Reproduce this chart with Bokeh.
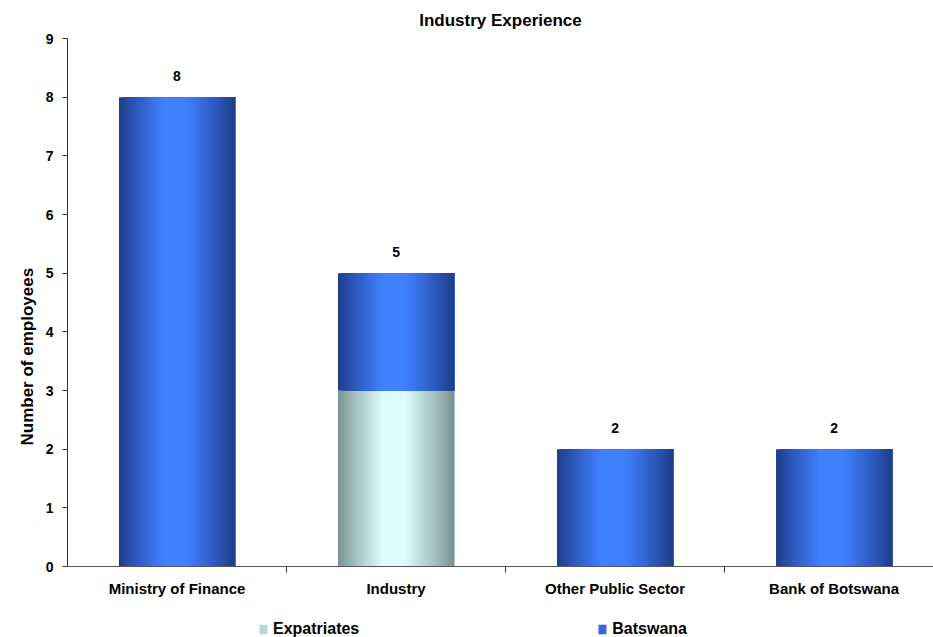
from bokeh.plotting import figure
from bokeh.models import (ColumnDataSource, Range1d, FixedTicker, Legend, LegendItem, Title)
from bokeh.layouts import column
from bokeh.embed import file_html
from bokeh.resources import INLINE

# ---- data ----
categories = ["Ministry of Finance", "Industry", "Other Public Sector", "Bank of Botswana"]
series_names = ["Expatriates", "Batswana"]
expatriates = [0, 3, 0, 0]
batswana = [8, 2, 2, 2]
y_ticks = [0, 1, 2, 3, 4, 5, 6, 7, 8, 9]
title_text = "Industry Experience"
y_label = "Number of employees"

FONT = "Liberation Sans"
BAR_W = 0.53
N_STRIPS = 40

def mix(c1, c2, f):
    return "#%02x%02x%02x" % tuple(int(round(a + (b - a) * f)) for a, b in zip(c1, c2))

def shade(t):
    if t < 0.38:
        return (t / 0.38) ** 0.9
    if t <= 0.58:
        return 1.0
    return ((1 - t) / 0.42) ** 0.9

palettes = {
    "Expatriates": ((120, 145, 142), (218, 252, 252)),
    "Batswana": ((30, 60, 136), (64, 128, 255)),
}

def strips(bottoms, tops, pal):
    d = dict(left=[], right=[], bottom=[], top=[], color=[])
    sw = BAR_W / N_STRIPS
    for i, (b, t) in enumerate(zip(bottoms, tops)):
        if t <= b:
            continue
        for k in range(N_STRIPS):
            tt = (k + 0.5) / N_STRIPS
            d["left"].append(i - BAR_W / 2 + k * sw)
            d["right"].append(i + BAR_W / 2)
            d["bottom"].append(b)
            d["top"].append(t)
            d["color"].append(mix(pal[0], pal[1], shade(tt)))
    return d

exp_bottom = [0] * len(categories)
exp_top = [e for e in expatriates]
bat_bottom = exp_top
bat_top = [e + b for e, b in zip(expatriates, batswana)]

p = figure(frame_width=866, frame_height=528, output_backend="svg", toolbar_location=None,
           x_range=Range1d(-0.5, 3.454), y_range=Range1d(0, 9),
           min_border_left=67, min_border_right=0, min_border_top=37, min_border_bottom=41)
p.outline_line_color = None
p.xgrid.visible = False
p.ygrid.visible = False

sources = {
    "Expatriates": ColumnDataSource(strips(exp_bottom, exp_top, palettes["Expatriates"])),
    "Batswana": ColumnDataSource(strips(bat_bottom, bat_top, palettes["Batswana"])),
}
for name in series_names:
    p.quad(left="left", right="right", bottom="bottom", top="top", source=sources[name],
           fill_color="color", line_color=None)

# value labels
lab = ColumnDataSource(dict(x=list(range(len(categories))), y=bat_top,
                            t=[str(v) for v in bat_top]))
p.text(x="x", y="y", text="t", source=lab, text_align="center", text_baseline="middle",
       y_offset=-21, text_font_size="14px", text_font_style="bold", text_color="black",
       text_font={"value": FONT})

# title
p.title.text = title_text
p.title.align = "center"
p.title.text_font = FONT
p.title.text_font_size = "17px"
p.title.text_font_style = "bold"
p.title.text_color = "black"
p.title.standoff = 17

# axes
xa = p.xaxis[0]
xa.ticker = FixedTicker(ticks=list(range(len(categories))), minor_ticks=[0.5, 1.5, 2.5])
xa.major_label_overrides = {i: c for i, c in enumerate(categories)}
xa.major_tick_in = 0
xa.major_tick_out = 0
xa.minor_tick_in = 0
xa.minor_tick_out = 6
xa.major_label_standoff = 7
xa.major_label_text_font = FONT
xa.major_label_text_font_size = "15px"
xa.major_label_text_font_style = "bold"
xa.major_label_text_color = "black"
xa.axis_line_color = "#555555"
xa.minor_tick_line_color = "#333333"

ya = p.yaxis[0]
ya.ticker = FixedTicker(ticks=y_ticks, minor_ticks=[])
ya.major_tick_in = 0
ya.major_tick_out = 5
ya.minor_tick_out = 0
ya.minor_tick_in = 0
ya.major_label_standoff = 9
ya.major_label_text_font = FONT
ya.major_label_text_font_size = "14px"
ya.major_label_text_font_style = "bold"
ya.major_label_text_color = "black"
ya.axis_line_color = "#333333"
ya.major_tick_line_color = "#333333"

ylab = Title(text=y_label, align="left", offset=121, text_font=FONT, text_font_size="17px",
             text_font_style="bold", text_color="black", standoff=12)
p.add_layout(ylab, "left")

# ---- legend strip below the chart (proxy renderers kept out of view) ----
lf = figure(frame_width=933, frame_height=31, output_backend="svg", toolbar_location=None,
            x_range=Range1d(100, 101), y_range=Range1d(100, 101),
            x_axis_location=None, y_axis_location=None,
            min_border_left=0, min_border_right=0, min_border_top=0, min_border_bottom=0)
lf.outline_line_color = None
lf.xgrid.visible = False
lf.ygrid.visible = False
items = []
for name in series_names:
    r = lf.quad(left="left", right="right", bottom="bottom", top="top", source=sources[name],
                fill_color="color", line_color=None)
    items.append(LegendItem(label=name, renderers=[r], index=9))
legend = Legend(items=items, orientation="horizontal", location=(258, 0), spacing=238,
                glyph_width=10, glyph_height=12, label_standoff=5,
                label_text_font=FONT, label_text_font_size="16px", label_text_font_style="bold",
                label_text_color="black", padding=0, margin=0, border_line_color=None,
                background_fill_alpha=0)
lf.add_layout(legend, "center")

open("out.html", "w").write(file_html(column(p, lf, spacing=0), INLINE))
